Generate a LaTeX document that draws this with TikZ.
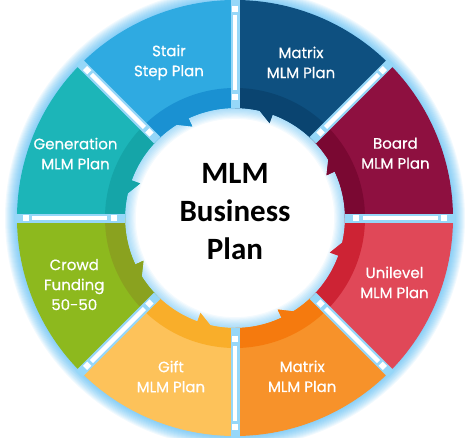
\documentclass[tikz,border=0pt]{standalone}
\usepackage{fontspec}
\newfontfamily\planfont[FakeBold=0.6]{Poppins}
\newfontfamily\titlefont{Carlito}

\definecolor{glowblue}{RGB}{60,175,240}
\definecolor{gapblue}{RGB}{150,215,248}
\definecolor{stairlight}{RGB}{47,170,225}
\definecolor{stairdark}{RGB}{26,145,210}
\definecolor{matrixlight}{RGB}{14,80,128}
\definecolor{matrixdark}{RGB}{10,68,112}
\definecolor{boardlight}{RGB}{142,16,64}
\definecolor{boarddark}{RGB}{122,8,50}
\definecolor{unilight}{RGB}{224,72,88}
\definecolor{unidark}{RGB}{205,35,52}
\definecolor{orangelight}{RGB}{247,146,42}
\definecolor{orangedark}{RGB}{245,122,14}
\definecolor{giftlight}{RGB}{253,194,90}
\definecolor{giftdark}{RGB}{249,174,42}
\definecolor{crowdlight}{RGB}{141,185,30}
\definecolor{crowddark}{RGB}{138,162,31}
\definecolor{genlight}{RGB}{28,181,184}
\definecolor{gendark}{RGB}{21,165,168}

% one ring segment: start angle, outer colour, inner band colour
\newcommand{\planseg}[3]{%
  \pgfmathsetmacro{\segend}{#1+45}
  \pgfmathsetmacro{\toothtip}{#1+25}
  \pgfmathsetmacro{\toothbase}{#1+32}
  \fill[#2] (#1:218pt) arc[start angle=#1, end angle=\segend, radius=218pt]
    -- (\segend:110pt) arc[start angle=\segend, end angle=\toothbase, radius=110pt]
    -- (\toothtip:101pt) -- (\toothtip:110pt)
    arc[start angle=\toothtip, end angle=#1, radius=110pt] -- cycle;
  \fill[#3] (#1:130pt) arc[start angle=#1, end angle=\segend, radius=130pt]
    -- (\segend:110pt) arc[start angle=\segend, end angle=\toothbase, radius=110pt]
    -- (\toothtip:101pt) -- (\toothtip:110pt)
    arc[start angle=\toothtip, end angle=#1, radius=110pt] -- cycle;
}

\begin{document}
\begin{tikzpicture}[plantext/.style = {text=white, align=center,
                      font=\planfont\fontsize{15}{20}\selectfont},
                    gapbar/.style = {gapblue, line width=9pt}]
    \useasboundingbox (-235pt,-219pt) rectangle (241pt,218pt);

    % glow round the wheel
    \foreach \k in {1,...,12}
        \fill[glowblue, opacity=.07, even odd rule] (0,0) circle[radius={218pt+1pt*\k}]
            (0,0) circle[radius=205pt];

    % glow inside the white centre
    \foreach \k in {0,...,9}
        \fill[glowblue, opacity=.06, even odd rule] (0,0) circle[radius=114pt]
            (0,0) circle[radius={110pt-1.2pt*\k}];

    % segments
    \planseg{0}{boardlight}{boarddark}
    \planseg{45}{matrixlight}{matrixdark}
    \planseg{90}{stairlight}{stairdark}
    \planseg{135}{genlight}{gendark}
    \planseg{180}{crowdlight}{crowddark}
    \planseg{225}{giftlight}{giftdark}
    \planseg{270}{orangelight}{orangedark}
    \planseg{315}{unilight}{unidark}

    % gaps between the segments
    \foreach \a in {0,45,...,315} {
        \draw[gapbar] (\a:110pt) -- (\a:221pt);
        \draw[white, line width=4.5pt] (\a:128pt) -- (\a:203pt);
        \draw[white, line width=6pt] (\a:118pt) -- (\a:124pt);
        \draw[white, line width=6pt] (\a:206pt) -- (\a:212pt);
    }

    % labels
    \node[plantext] (stair) at (113:169pt) {Stair\\Step Plan};
    \node[plantext] (matrixtop) at (67:169pt) {Matrix\\MLM Plan};
    \node[plantext] (generation) at (158:172pt) {Generation\\MLM Plan};
    \node[plantext] (board) at (22:173pt) {Board\\MLM Plan};
    \node[plantext] (crowd) at (-157.5:174pt) {Crowd\\Funding\\50-50};
    \node[plantext] (unilevel) at (-22:172pt) {Unilevel\\MLM Plan};
    \node[plantext] (gift) at (-112:171pt) {Gift\\MLM Plan};
    \node[plantext] (matrixbottom) at (-67:172pt) {Matrix\\MLM Plan};

    \node[font=\titlefont\bfseries\fontsize{31}{38}\selectfont, align=center]
        (title) at (0,6pt) {MLM\\Business\\Plan};
\end{tikzpicture}
\end{document}
